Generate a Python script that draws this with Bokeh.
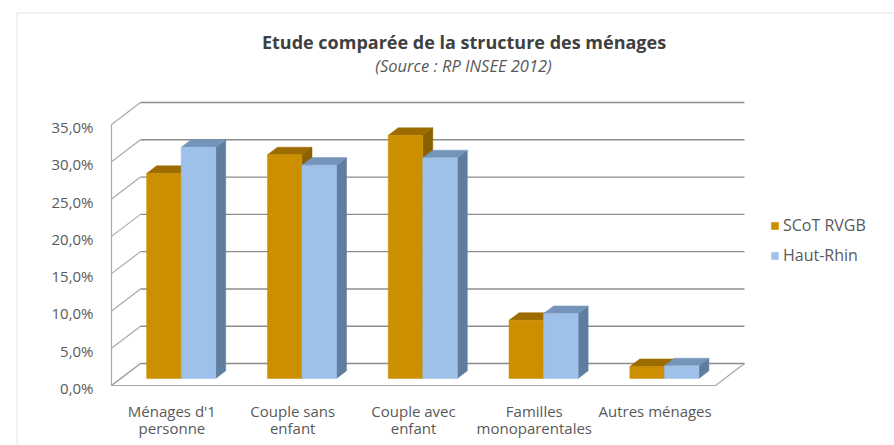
from bokeh.plotting import figure
from bokeh.models import (Range1d, Label, Legend, LegendItem, BoxAnnotation, ColumnDataSource)
from bokeh.core.properties import value
from bokeh.embed import file_html
from bokeh.resources import INLINE

# ---------------- data ----------------
categories = ["Ménages d'1\npersonne", "Couple sans\nenfant", "Couple avec\nenfant",
              "Familles\nmonoparentales", "Autres ménages"]
series_names = ["SCoT RVGB", "Haut-Rhin"]
scot = [27.5, 30.0, 32.6, 7.8, 1.6]
haut_rhin = [31.0, 28.6, 29.6, 8.7, 1.7]
y_ticks = [0, 5, 10, 15, 20, 25, 30, 35]
y_tick_labels = ["0,0%", "5,0%", "10,0%", "15,0%", "20,0%", "25,0%", "30,0%", "35,0%"]
title_text = "Etude comparée de la structure des ménages"
subtitle_text = "(Source : RP INSEE 2012)"

# ---------------- layout (page pixels) ----------------
W, H = 894, 445
X0_PAGE, CAT_PX = 111.0, 120.8                     # front plane x origin, px per category
Y0_PAGE, PCT_PX = 385.0, 7.457                     # front plane y origin, px per percent
DEPTH_DX, DEPTH_DY = 29.0 / CAT_PX, 22.0 / PCT_PX  # full depth offset in data units
D0, D1 = 0.32, 0.665                               # bar depth span (fraction)
BW = 0.286                                         # bar width (category units)

FONT = "Open Sans"
TXT = "#595959"
GOLD_FRONT, GOLD_TOP, GOLD_SIDE = "#CC8F00", "#9C6C00", "#8A6000"
BLUE_FRONT, BLUE_TOP, BLUE_SIDE = "#9DC1E8", "#7594BA", "#5F7E9F"
GRID = "#8C8C8C"
WALL = "#A8A8A8"


def px_x(page_x):
    return (page_x - X0_PAGE) / CAT_PX


def px_y(page_y):
    return (Y0_PAGE - page_y) / PCT_PX


p = figure(width=W, height=H, x_range=Range1d(px_x(0), px_x(W)),
           y_range=Range1d(px_y(H), px_y(0)),
           output_backend="svg", toolbar_location=None,
           x_axis_location=None, y_axis_location=None,
           min_border_left=0, min_border_right=0,
           min_border_top=0, min_border_bottom=0)
p.outline_line_color = None
p.xgrid.visible = False
p.ygrid.visible = False
p.background_fill_color = "white"
p.border_fill_color = "white"

n = len(categories)
top = y_ticks[-1]

# outer chart border (left & top visible, rest beyond the page)
p.add_layout(BoxAnnotation(left=16.5, right=W + 50, top=H - 12.5, bottom=-50,
                           left_units="screen", right_units="screen",
                           top_units="screen", bottom_units="screen",
                           fill_alpha=0, line_color="#C4C4C4", line_width=1.4))

# floor
p.patch(x=[0, n, n + DEPTH_DX, DEPTH_DX], y=[0, 0, DEPTH_DY, DEPTH_DY],
        fill_color="white", line_color=WALL, line_width=1.2)
# back wall gridlines
p.multi_line(xs=[[DEPTH_DX, n + DEPTH_DX] for t in y_ticks],
             ys=[[t + DEPTH_DY, t + DEPTH_DY] for t in y_ticks],
             line_color=GRID, line_width=1.4)
# left wall diagonals
p.multi_line(xs=[[0, DEPTH_DX] for t in y_ticks],
             ys=[[t, t + DEPTH_DY] for t in y_ticks],
             line_color=WALL, line_width=1.2)
p.line(x=[0, 0], y=[0, top], line_color=WALL, line_width=1.2)

# y tick labels (through the y scale)
p.text(x=[px_x(93)] * len(y_ticks), y=[t - 2.5 / PCT_PX for t in y_ticks],
       text=y_tick_labels, text_align="right", text_baseline="middle",
       text_font=value(FONT), text_font_size="15px", text_color=TXT)

# bars
sd, sdy = (D1 - D0) * DEPTH_DX, (D1 - D0) * DEPTH_DY
front_renderers = []
for s, (vals, cf, ct, cs) in enumerate([(scot, GOLD_FRONT, GOLD_TOP, GOLD_SIDE),
                                         (haut_rhin, BLUE_FRONT, BLUE_TOP, BLUE_SIDE)]):
    lefts = [i + 0.5 - BW + s * BW + D0 * DEPTH_DX for i in range(n)]
    rights = [l + BW for l in lefts]
    bottoms = [D0 * DEPTH_DY] * n
    tops = [v + D0 * DEPTH_DY for v in vals]
    side_xs = [[r, r + sd, r + sd, r] for r in rights]
    side_ys = [[b, b + sdy, t + sdy, t] for b, t in zip(bottoms, tops)]
    top_xs = [[l, r, r + sd, l + sd] for l, r in zip(lefts, rights)]
    top_ys = [[t, t, t + sdy, t + sdy] for t in tops]
    p.patches(xs=side_xs, ys=side_ys, fill_color=cs, line_color=cs, line_width=0.5)
    p.patches(xs=top_xs, ys=top_ys, fill_color=ct, line_color=ct, line_width=0.5)
    src = ColumnDataSource(dict(left=lefts, right=rights, bottom=bottoms, top=tops))
    r = p.quad(left="left", right="right", bottom="bottom", top="top", source=src,
               fill_color=cf, line_color=cf, line_width=0.5)
    front_renderers.append(r)

# category labels (through the x scale)
p.text(x=[i + 0.5 for i in range(n)], y=[px_y(400)] * n, text=categories,
       text_align="center", text_baseline="top", text_font=value(FONT),
       text_font_size="15px", text_color=TXT, text_line_height=0.88)

# legend
legend = Legend(items=[LegendItem(label=series_names[k], renderers=[front_renderers[k]])
                       for k in range(2)],
                location=(770, H - 266), orientation="vertical",
                glyph_width=9, glyph_height=9, label_height=22, spacing=8,
                label_standoff=4, padding=0, margin=0,
                border_line_color=None, background_fill_alpha=0,
                label_text_font=FONT, label_text_font_size="16px",
                label_text_color=TXT)
p.add_layout(legend)

# title & subtitle
p.add_layout(Label(x=463.5, y=H - 41, x_units="screen", y_units="screen",
                   text=title_text, text_align="center", text_baseline="middle",
                   text_font=FONT, text_font_style="bold", text_font_size="18px",
                   text_color="#404040"))
p.add_layout(Label(x=463, y=H - 65, x_units="screen", y_units="screen",
                   text=subtitle_text, text_align="center", text_baseline="middle",
                   text_font=FONT, text_font_style="italic", text_font_size="16.5px",
                   text_color=TXT))

open("out.html", "w").write(file_html(p, INLINE))
